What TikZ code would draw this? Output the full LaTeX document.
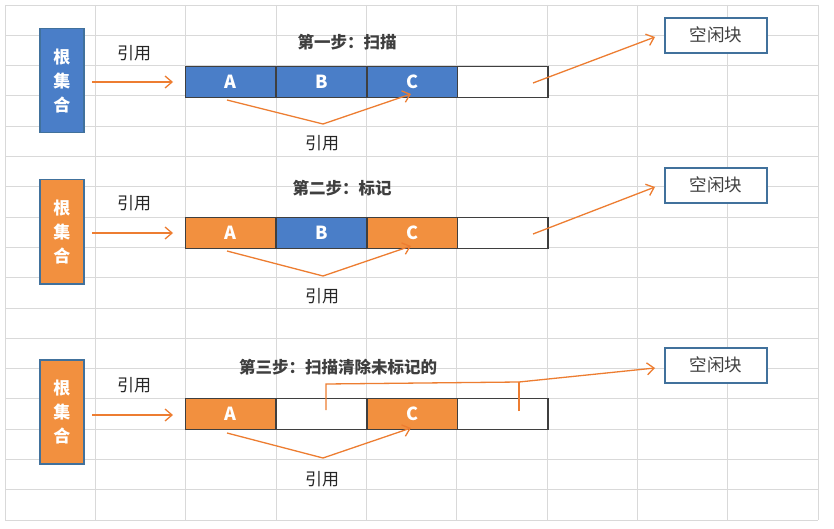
\documentclass[tikz,border=0pt]{standalone}
\usepackage{fontspec}
\setmainfont{Noto Sans CJK SC}
\usetikzlibrary{arrows.meta}
\definecolor{gblue}{HTML}{4A7EC8}
\definecolor{gorange}{HTML}{F2903F}
\definecolor{aorange}{HTML}{ED7D31}
\definecolor{bborder}{HTML}{41719C}
\definecolor{gridc}{HTML}{D9D9D9}
\definecolor{tdark}{HTML}{3F3F3F}
\begin{document}
\begin{tikzpicture}[x=1pt,y=-1pt,
  gridline/.style={draw=gridc, line width=0.8pt},
  cell/.style={draw=tdark, line width=1.3pt, minimum width=90.3pt, minimum height=31pt, inner sep=0pt, anchor=north west, text=white, font=\fontsize{18}{18}\selectfont\bfseries},
  bcell/.style={cell, fill=gblue},
  ocell/.style={cell, fill=gorange},
  wcell/.style={cell, fill=white},
  rootbox/.style={draw=bborder, line width=1.5pt, minimum width=44pt, minimum height=104pt, inner sep=0pt, anchor=north west, align=center, text=white, font=\fontsize{17}{24}\selectfont\bfseries},
  freebox/.style={draw=bborder, line width=1.6pt, fill=white, minimum width=102pt, minimum height=35pt, inner sep=0pt, anchor=north west, text=tdark, font=\fontsize{17.5}{17.5}\selectfont},
  lbl/.style={text=black!85, font=\fontsize{17}{17}\selectfont},
  ttl/.style={text=tdark, font=\fontsize{16.5}{16.5}\selectfont\bfseries},
  arr/.style={draw=aorange, line width=1.3pt, -{Straight Barb[length=7pt,width=12pt,line width=1.3pt]}},
  aline/.style={draw=aorange, line width=1.3pt}
]
\useasboundingbox (0,0) rectangle (834,529);
\fill[white] (0,0) rectangle (834,529);
% grid
\foreach \i in {0,...,9} { \draw[gridline] ({5+90.33*\i},5) -- ({5+90.33*\i},520); }
\foreach \j in {0,...,17} { \draw[gridline] (5,{5+30.29*\j}) -- (818,{5+30.29*\j}); }

% ---------- Row 1 ----------
\node[rootbox, fill=gblue] (r1) at (39,28) {根\\集\\合};
\node[lbl] (l1) at (134,53) {引用};
\node[bcell] (a1) at (185,66) {A};
\node[bcell] (b1) at (276,66) {B};
\node[bcell] (c1) at (366.5,66) {C};
\node[wcell] (d1) at (457,66) {};
\node[ttl] (t1) at (347,42) {第一步：扫描};
\node[freebox] (f1) at (664,17) {空闲块};
\node[lbl] (m1) at (322,143) {引用};
\coordinate (rs1) at (92,82);
\coordinate (re1) at (173,82);
\draw[arr] (rs1) -- (re1);
\coordinate (x1) at (227,100);
\coordinate (y1) at (323,124);
\coordinate (z1) at (411,94);
\draw[arr] (x1) -- (y1) -- (z1);
\coordinate (fs1) at (533,83);
\coordinate (fe1) at (655,37);
\draw[arr] (fs1) -- (fe1);

% ---------- Row 2 ----------
\node[rootbox, fill=gorange] (r2) at (39,179) {根\\集\\合};
\node[lbl] (l2) at (134,203) {引用};
\node[ocell] (a2) at (185,217) {A};
\node[bcell] (b2) at (276,217) {B};
\node[ocell] (c2) at (366.5,217) {C};
\node[wcell] (d2) at (457,217) {};
\node[ttl] (t2) at (342,188) {第二步：标记};
\node[freebox] (f2) at (664,167) {空闲块};
\node[lbl] (m2) at (322,296) {引用};
\coordinate (rs2) at (92,233);
\coordinate (re2) at (173,233);
\draw[arr] (rs2) -- (re2);
\coordinate (x2) at (227,251);
\coordinate (y2) at (323,276);
\coordinate (z2) at (411,246);
\draw[arr] (x2) -- (y2) -- (z2);
\coordinate (fs2) at (533,234);
\coordinate (fe2) at (655,187);
\draw[arr] (fs2) -- (fe2);

% ---------- Row 3 ----------
\node[rootbox, fill=gorange] (r3) at (39,359) {根\\集\\合};
\node[lbl] (l3) at (134,385) {引用};
\node[ocell] (a3) at (185,398) {A};
\node[wcell] (b3) at (276,398) {};
\node[ocell] (c3) at (366.5,398) {C};
\node[wcell] (d3) at (457,398) {};
\node[ttl] (t3) at (338,367) {第三步：扫描清除未标记的};
\node[freebox] (f3) at (664,347) {空闲块};
\node[lbl] (m3) at (322,479) {引用};
\coordinate (rs3) at (92,415);
\coordinate (re3) at (173,415);
\draw[arr] (rs3) -- (re3);
\coordinate (x3) at (227,433);
\coordinate (y3) at (323,458);
\coordinate (z3) at (411,428);
\draw[arr] (x3) -- (y3) -- (z3);
\coordinate (p1) at (326,410);
\coordinate (p2) at (326,384);
\coordinate (p3) at (519,382);
\coordinate (p4) at (519,411);
\coordinate (p5) at (655,368);
\draw[aline] (p1) -- (p2) -- (p3);
\draw[aline] (p4) -- (p3);
\draw[arr] (p3) -- (p5);
\end{tikzpicture}
\end{document}
